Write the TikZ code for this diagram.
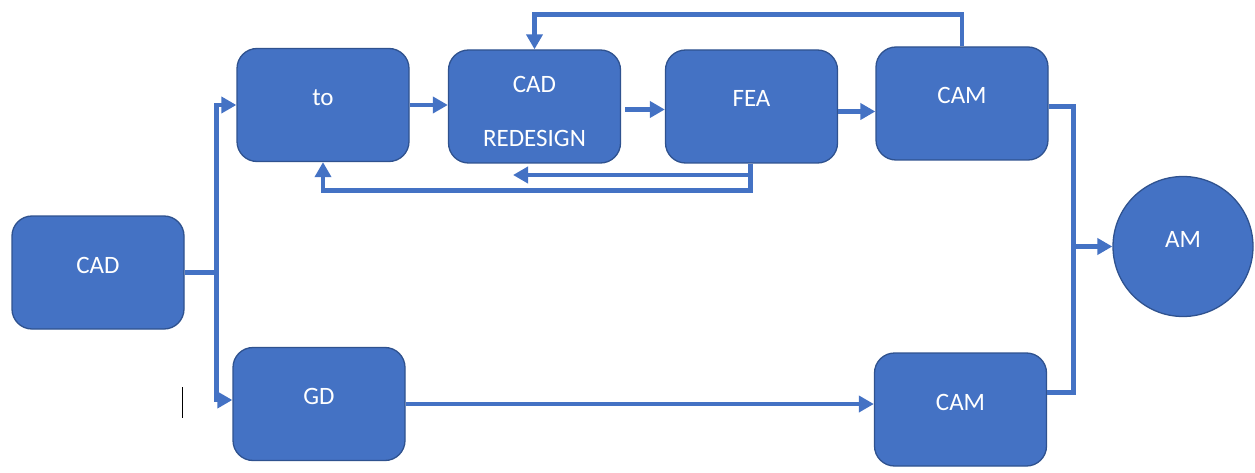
\documentclass[tikz,border=0pt]{standalone}
\usepackage{fontspec}
\setmainfont{Carlito}
\usetikzlibrary{arrows.meta,calc}
\definecolor{obl}{HTML}{4472C4}
\definecolor{obd}{HTML}{2F528F}
\begin{document}
\begin{tikzpicture}[x=1pt,y=-1pt,
  box/.style={draw=obd, line width=1.3pt, fill=obl, rounded corners=20pt,
    minimum width=172pt, minimum height=113pt, text=white,
    font=\fontsize{25}{30}\selectfont, inner sep=0pt},
  one/.style={text height=18pt, text depth=17pt},
  conn/.style={draw=obl, line width=4.5pt},
  arr/.style={conn, -{Triangle[length=15pt,width=16pt]}}]
\useasboundingbox (0,0) rectangle (1255,473);
% nodes
\node[box,one] (cad)  at (98,272.5)   {CAD};
\node[box,one] (to)   at (323,105)    {to};
\node[box,align=center,execute at begin node={\setlength{\baselineskip}{54pt}}] (red) at (534.5,106.5) {\rule{0pt}{26pt}CAD\\REDESIGN};
\node[box,one] (fea)  at (751.5,106.5) {FEA};
\node[box,one] (cam1) at (962,103.5)  {CAM};
\node[box,one] (gd)   at (319,404)    {GD};
\node[box,one] (cam2) at (960.5,409.5) {CAM};
\node[draw=obd, line width=1.3pt, fill=obl, circle, minimum size=140pt, inner sep=0pt,
  text=white, font=\fontsize{25}{30}\selectfont, text height=18pt, text depth=17pt] (am) at (1183,246.5) {AM};
% left split
\draw[conn] (cad.east) -- ++(32,0) coordinate (j1);
\draw[arr] (j1) |- (to.west);
\draw[arr] (j1) |- ([yshift=4pt]gd.west);
% top chain
\draw[arr] (to.east) -- (to.east -| red.west);
\draw[arr] ([xshift=4pt,yshift=-3pt]red.east) -- ([yshift=-3pt]fea.west);
\draw[arr] ([yshift=-5pt]fea.east) -- ([yshift=-5pt]fea.east -| cam1.west);
% feedback loops
\draw[arr] (cam1.north) -- ++(0,-32) -| (red.north);
\coordinate (fb) at (513,175);
\draw[arr] ([xshift=-1pt]fea.south) |- (fb);
\draw[arr] ([xshift=-1pt]fea.south) -- ++(0,27) -| (to.south);
% bottom
\draw[arr] (gd.east) -- (gd.east -| cam2.west);
% right merge
\draw[conn] ([yshift=-3pt]cam1.east) -- ++(25,0) coordinate (r1) |- ([yshift=17pt]cam2.east);
\draw[arr] (r1 |- am.west) -- (am.west);
% stray cursor mark
\draw[black, line width=0.8pt] (182,387) -- (182,418);
\end{tikzpicture}
\end{document}
